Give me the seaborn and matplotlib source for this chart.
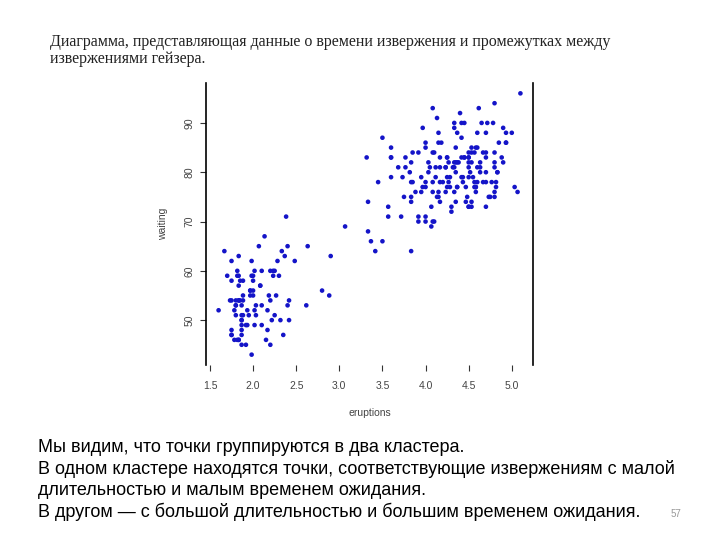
import numpy as np
import pandas as pd
import seaborn as sns
import matplotlib.pyplot as plt

# Old Faithful: eruption duration (min) and waiting time (min)
eruptions = [
    3.600, 1.800, 3.333, 2.283, 4.533, 2.883, 4.700, 3.600, 1.950, 4.350,
    1.833, 3.917, 4.200, 1.750, 4.700, 2.167, 1.750, 4.800, 1.600, 4.250,
    1.800, 1.750, 3.450, 3.067, 4.533, 3.600, 1.967, 4.083, 3.850, 4.433,
    4.300, 4.467, 3.367, 4.033, 3.833, 2.017, 1.867, 4.833, 1.833, 4.783,
    4.350, 1.883, 4.567, 1.750, 4.533, 3.317, 3.833, 2.100, 4.633, 2.000,
    4.800, 4.716, 1.833, 4.833, 1.733, 4.883, 3.717, 1.667, 4.567, 4.317,
    2.233, 4.500, 1.750, 4.800, 1.817, 4.400, 4.167, 4.700, 2.067, 4.700,
    4.033, 1.967, 4.500, 4.000, 1.983, 5.067, 2.017, 4.567, 3.883, 3.600,
    4.133, 4.333, 4.100, 2.633, 4.067, 4.933, 3.950, 4.517, 2.167, 4.000,
    2.200, 4.333, 1.867, 4.817, 1.833, 4.300, 4.667, 3.750, 1.867, 4.900,
    2.483, 4.367, 2.100, 4.500, 4.050, 1.867, 4.700, 1.783, 4.850, 3.683,
    4.733, 2.300, 4.900, 4.417, 1.700, 4.633, 2.317, 4.600, 1.817, 4.417,
    2.617, 4.067, 4.250, 1.967, 4.600, 3.767, 1.917, 4.500, 2.267, 4.650,
    1.867, 4.167, 2.800, 4.333, 1.833, 4.383, 1.883, 4.933, 2.033, 3.733,
    4.233, 2.233, 4.533, 4.817, 4.333, 1.983, 4.633, 2.017, 5.100, 1.800,
    5.033, 4.000, 2.400, 4.600, 3.567, 4.000, 4.500, 4.083, 1.800, 3.967,
    2.200, 4.150, 2.000, 3.833, 3.500, 4.583, 2.367, 5.000, 1.933, 4.617,
    1.917, 2.083, 4.583, 3.333, 4.167, 4.333, 4.500, 2.417, 4.000, 4.167,
    1.883, 4.583, 4.250, 3.767, 2.033, 4.433, 4.083, 1.833, 4.417, 2.183,
    4.800, 1.833, 4.800, 4.100, 3.966, 4.233, 3.500, 4.366, 2.250, 4.667,
    2.100, 4.350, 4.133, 1.867, 4.600, 1.783, 4.367, 3.850, 1.933, 4.500,
    2.383, 4.700, 1.867, 3.833, 3.417, 4.233, 2.400, 4.800, 2.000, 4.150,
    1.867, 4.267, 1.750, 4.483, 4.000, 4.117, 4.083, 4.267, 3.917, 4.550,
    4.083, 2.417, 4.183, 2.217, 4.450, 1.883, 1.850, 4.283, 3.950, 2.333,
    4.150, 2.350, 4.933, 2.900, 4.583, 3.833, 2.083, 4.367, 2.133, 4.350,
    2.200, 4.450, 3.567, 4.500, 4.150, 3.817, 3.917, 4.450, 2.000, 4.283,
    4.767, 4.533, 1.850, 4.250, 1.983, 2.250, 4.750, 4.117, 2.150, 4.417,
    1.817, 4.467,
]
waiting = [
    79, 54, 74, 62, 85, 55, 88, 85, 51, 85, 54, 84, 78, 47, 83, 52, 62, 84, 52, 79,
    51, 47, 78, 69, 74, 83, 55, 76, 78, 79, 73, 77, 66, 80, 74, 52, 48, 80, 59, 90,
    80, 58, 84, 58, 73, 83, 64, 53, 82, 59, 75, 90, 54, 80, 54, 83, 71, 64, 77, 81,
    59, 84, 48, 82, 60, 92, 78, 78, 65, 73, 82, 56, 79, 71, 62, 76, 60, 78, 76, 83,
    75, 82, 70, 65, 73, 88, 76, 80, 48, 86, 60, 90, 50, 78, 63, 72, 84, 75, 51, 82,
    62, 88, 49, 83, 81, 47, 84, 52, 86, 81, 75, 59, 89, 79, 59, 81, 50, 85, 59, 87,
    53, 69, 77, 56, 88, 81, 45, 82, 55, 90, 45, 83, 56, 89, 46, 82, 51, 86, 53, 79,
    81, 60, 82, 77, 76, 59, 80, 49, 96, 53, 77, 77, 65, 81, 71, 70, 81, 93, 53, 89,
    45, 86, 58, 78, 66, 76, 63, 88, 52, 93, 49, 57, 77, 68, 81, 81, 73, 50, 85, 74,
    55, 77, 83, 83, 51, 78, 84, 46, 83, 55, 81, 57, 76, 84, 77, 81, 87, 77, 51, 78,
    60, 82, 91, 53, 78, 46, 77, 84, 49, 83, 71, 80, 49, 75, 64, 76, 53, 94, 55, 76,
    50, 82, 54, 75, 78, 79, 78, 78, 70, 79, 70, 54, 86, 50, 90, 54, 54, 77, 79, 64,
    75, 47, 86, 63, 85, 82, 57, 82, 67, 74, 54, 83, 73, 73, 88, 80, 71, 83, 56, 79,
    78, 84, 58, 83, 43, 60, 75, 81, 46, 90, 46, 74,
]
x_ticks = [1.5, 2.0, 2.5, 3.0, 3.5, 4.0, 4.5, 5.0]
y_ticks = [50, 60, 70, 80, 90]

title_lines = [
    "Диаграмма, представляющая данные о времени извержения и промежутках между",
    "извержениями гейзера.",
]
body_lines = [
    "Мы видим, что точки группируются в два кластера.",
    "В одном кластере находятся точки, соответствующие извержениям с малой",
    "длительностью и малым временем ожидания.",
    "В другом — с большой длительностью и большим временем ожидания.",
]

df = pd.DataFrame({"eruptions": eruptions, "waiting": waiting})

sns.set_style("white")
plt.rcParams["font.family"] = ["Liberation Sans", "DejaVu Sans"]

fig = plt.figure(figsize=(7.2, 5.4), dpi=100)
ax = fig.add_axes([206 / 720, 1 - 365 / 540, 327 / 720, 282 / 540])

sns.scatterplot(data=df, x="eruptions", y="waiting", ax=ax,
                color="#1414c8", s=11, linewidth=0, edgecolor="none")

# пределы как в R (+4%)
ax.set_xlim(1.454, 5.246)
ax.set_ylim(40.9, 98.1)
ax.set_xticks(x_ticks)
ax.set_xticklabels([f"{t:.1f}" for t in x_ticks])
ax.set_yticks(y_ticks)
ax.set_yticklabels([str(t) for t in y_ticks], rotation=90, va="center")

for side in ["top", "bottom"]:
    ax.spines[side].set_visible(False)
for side in ["left", "right"]:
    ax.spines[side].set_color("black")
    ax.spines[side].set_linewidth(1.2)

ax.tick_params(axis="both", direction="out", length=4.5, width=0.8,
               color="#333333", labelsize=7.5, labelcolor="#444444")
ax.tick_params(axis="x", pad=7, bottom=True)
ax.tick_params(axis="y", pad=4, left=True)
ax.set_xlabel("eruptions", fontsize=7.5, color="#444444", labelpad=12)
ax.set_ylabel("waiting", fontsize=7.5, color="#444444", labelpad=12)

fig.text(50 / 720, 1 - 42 / 540, title_lines[0], fontsize=11.5,
         family=["Liberation Serif", "DejaVu Serif"], color="#222222", va="center")
fig.text(50 / 720, 1 - 59 / 540, title_lines[1], fontsize=11.5,
         family=["Liberation Serif", "DejaVu Serif"], color="#222222", va="center")

for i, line in enumerate(body_lines):
    fig.text(38 / 720, 1 - (447 + 21.7 * i) / 540, line, fontsize=13,
             color="black", va="center")

fig.text(671 / 720, 1 - 514 / 540, "57", fontsize=7, color="#999999", va="center")

plt.savefig("out.png", dpi=100)
plt.close()
